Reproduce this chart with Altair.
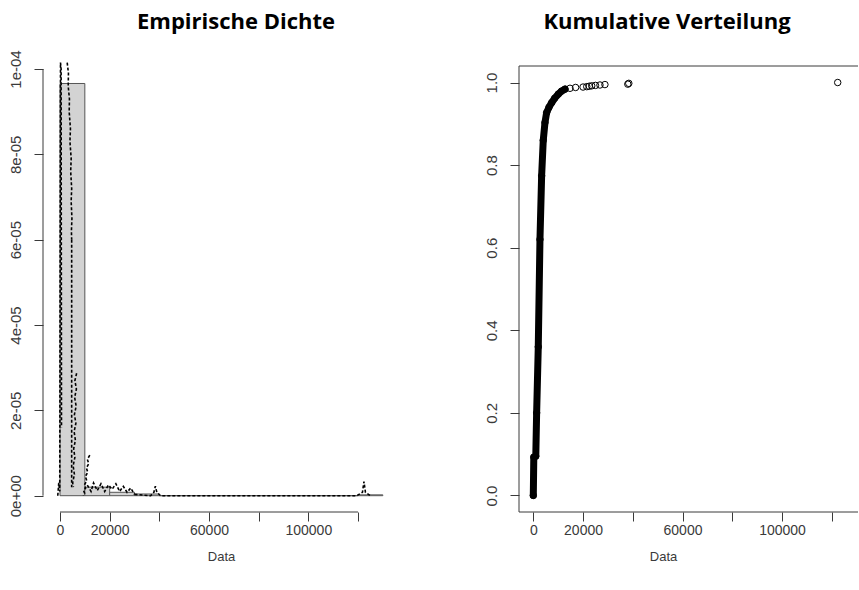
import altair as alt
import pandas as pd

# ---------------- data: left panel (histogram + density) ----------------
hist_start = [0, 10000, 20000, 30000, 40000, 50000, 60000, 70000, 80000, 90000, 100000, 110000, 120000]
hist_end = [10000, 20000, 30000, 40000, 50000, 60000, 70000, 80000, 90000, 100000, 110000, 120000, 130000]
hist_density = [9.66e-05, 2.0e-06, 8.0e-07, 4.0e-07, 0, 0, 0, 0, 0, 0, 0, 0, 2.0e-07]

# dashed density traces (y in units of 1e-6)
dens_seg = (["A"] * 6 + ["B"] * 14 + ["C"] * 2 + ["D"] * 15 + ["E"] * 12 + ["F"] * 14 + ["G"] * 11)
dens_x = [-900, -500, -100, 200, 450, 600,
          2900, 3400, 3300, 3800, 3700, 4200, 4000, 4500, 4300, 4700, 4500, 4800, 4600, 4700,
          4700, 4700,
          6700, 6000, 6600, 5900, 6500, 5800, 6400, 5700, 6200, 5500, 6000, 5300, 5800, 5100, 5400,
          12000, 11000, 11600, 10600, 11200, 10200, 10800, 9800, 10300, 9500, 9900, 9400,
          11000, 12500, 13500, 15000, 16500, 18000, 19500, 21000, 22500, 24000, 25500, 27000, 28500, 30000,
          30000, 36500, 37800, 38400, 39000, 40500, 119500, 121800, 122400, 123000, 125000]
dens_y6 = [0, 3, 1, 101.5, 100, 16,
           101.5, 99, 96, 93, 90, 86, 83, 79, 76, 72, 69, 65, 62, 60,
           60, 2,
           28.7, 27, 25, 23, 21, 19, 17, 15, 13, 11, 9, 7, 5, 3, 2,
           9.5, 8.5, 7.5, 6.5, 5.5, 4.5, 3.5, 2.5, 1.8, 1.2, 0.6, 0,
           2.5, 1, 3, 1.2, 2.8, 1, 2.5, 1.5, 2.8, 1, 2.2, 0.8, 1.8, 0.3,
           0.3, 0, 0.8, 2.2, 0.8, 0, 0, 0.8, 3.3, 0.8, 0]

# ---------------- data: right panel (ECDF) ----------------
ecdf_x = [0, 200, 1000, 1340, 2000, 2680, 3350, 4000, 4690, 5360, 6300, 7370, 8600, 10050, 11300, 12750,
          14750, 17000, 20000, 21500, 22500, 23500, 25000, 26800, 28800, 38000, 38400, 122400]
ecdf_y = [0.0, 0.093, 0.095, 0.2, 0.36, 0.62, 0.774, 0.86, 0.903, 0.927, 0.94, 0.951, 0.962, 0.972, 0.979, 0.984,
          0.986, 0.988, 0.989, 0.990, 0.991, 0.992, 0.993, 0.994, 0.995, 0.996, 0.998, 1.0]
ecdf_dense_count = 16  # points drawn as the solid black run

x_ticks = [0, 20000, 40000, 60000, 80000, 100000, 120000]
x_labels_shown = [0, 20000, 60000, 100000]
dens_ticks = [0, 2e-05, 4e-05, 6e-05, 8e-05, 1e-04]
dens_tick_labels = ["0e+00", "2e-05", "4e-05", "6e-05", "8e-05", "1e-04"]
prob_ticks = [0.0, 0.2, 0.4, 0.6, 0.8, 1.0]
titles = ["Empirische Dichte", "Kumulative Verteilung"]

# ---------------- layout constants ----------------
LW, RW, H = 354, 339, 446
PAD_L, PAD_T, PAD_B = 43, 66, 78
LABEL_FONT = "Liberation Sans"
XLAB_FONT = "Liberation Sans Narrow, Liberation Sans, Arial"
TITLE_FONT = "Open Sans"
INK = "#3a3a3a"

hist_df = pd.DataFrame({"x": hist_start, "x2": hist_end, "y": [0.0] * len(hist_start), "y2": hist_density})
dens_df = pd.DataFrame({"seg": dens_seg, "x": dens_x, "y": [v * 1e-6 for v in dens_y6],
                        "o": list(range(len(dens_x)))})
ecdf_df = pd.DataFrame({"x": ecdf_x, "y": ecdf_y, "o": list(range(len(ecdf_x)))})
ecdf_dense_df = ecdf_df.iloc[:ecdf_dense_count]

shown = ",".join(str(v) for v in x_labels_shown)
x_label_expr = f"indexof([{shown}], datum.value) >= 0 ? format(datum.value, 'd') : ''"
lab_arr = ",".join(f"'{s}'" for s in dens_tick_labels)
y_label_expr = f"[{lab_arr}][round(datum.value / 2e-05)]"


def x_axis(title_x):
    return alt.Axis(values=x_ticks, labelExpr=x_label_expr, domain=False, grid=False,
                    tickSize=9, tickColor=INK, tickWidth=1, labelColor=INK,
                    labelFont=XLAB_FONT, labelFontSize=14, labelPadding=9,
                    labelBaseline="middle", labelOverlap=False, labelFlush=False,
                    title="Data", titleX=title_x, titleY=44, titleBaseline="middle",
                    titleAlign="center", titleFont=XLAB_FONT, titleFontSize=13,
                    titleFontWeight="normal", titleColor=INK)


def y_axis(values, **kw):
    return alt.Axis(values=values, domain=False, grid=False, tickSize=9, tickColor=INK,
                    labelColor=INK, labelFont=LABEL_FONT, labelFontSize=15, labelAngle=-90,
                    labelAlign="center", labelBaseline="middle", labelPadding=19,
                    labelOverlap=False, labelFlush=False, title=None, **kw)


def title_mark(text, x_px):
    return alt.Chart(pd.DataFrame({"t": [text]})).mark_text(
        font=TITLE_FONT, fontSize=22, fontWeight="bold", color="black",
        align="center", baseline="middle").encode(
        text="t:N", x=alt.value(x_px), y=alt.value(22 - PAD_T))


frame_df = pd.DataFrame({"k": [0]})

lx_scale = alt.Scale(domain=[-6846, 135706], nice=False, zero=False)
ly_scale = alt.Scale(domain=[-3.82e-06, 100.7e-06], nice=False, zero=False)
lx_axis = x_axis(178)
ly_axis = y_axis(dens_ticks, labelExpr=y_label_expr)

hist = alt.Chart(hist_df).mark_rect(fill="#d3d3d3", stroke="#555555", strokeWidth=1).encode(
    x=alt.X("x:Q", scale=lx_scale, axis=lx_axis), x2="x2:Q",
    y=alt.Y("y:Q", scale=ly_scale, axis=ly_axis), y2="y2:Q")

dens = alt.Chart(dens_df).mark_line(color="black", strokeWidth=1.6, strokeDash=[3, 2], clip=False).encode(
    x=alt.X("x:Q", scale=lx_scale, axis=lx_axis),
    y=alt.Y("y:Q", scale=ly_scale, axis=ly_axis),
    detail="seg:N", order="o:Q")

xline_df = pd.DataFrame({"x": [x_ticks[0]], "x2": [x_ticks[-1]]})
yline_df = pd.DataFrame({"y": [dens_ticks[0]], "y2": [dens_ticks[-1]]})
lx_line = alt.Chart(xline_df).mark_rule(color=INK, strokeWidth=1).encode(
    x=alt.X("x:Q", scale=lx_scale, axis=lx_axis), x2="x2:Q", y=alt.value(H))
ly_line = alt.Chart(yline_df).mark_rule(color=INK, strokeWidth=1).encode(
    y=alt.Y("y:Q", scale=ly_scale, axis=ly_axis), y2="y2:Q", x=alt.value(0))
# invisible guide fixing the outer page corners
l_bbox = alt.Chart(frame_df).mark_rule(opacity=0, strokeWidth=0).encode(
    x=alt.value(-PAD_L), y=alt.value(-PAD_T), y2=alt.value(H + PAD_B))

left = alt.layer(hist, dens, lx_line, ly_line, l_bbox, title_mark(titles[0], 236 - PAD_L)).properties(
    width=LW, height=H)

rx_scale = alt.Scale(domain=[-5750, 130560], nice=False, zero=False)
ry_scale = alt.Scale(domain=[-0.04, 1.04], nice=False, zero=False)
rx_axis = x_axis(144)
ry_axis = y_axis(prob_ticks, format=".1f")

f_top = alt.Chart(frame_df).mark_rule(color=INK, strokeWidth=1).encode(
    x=alt.value(0), x2=alt.value(RW), y=alt.value(0))
f_bot = alt.Chart(frame_df).mark_rule(color=INK, strokeWidth=1).encode(
    x=alt.value(0), x2=alt.value(RW), y=alt.value(H))
f_left = alt.Chart(frame_df).mark_rule(color=INK, strokeWidth=1).encode(
    x=alt.value(0), y=alt.value(0), y2=alt.value(H))

ecdf_run = alt.Chart(ecdf_dense_df).mark_line(color="black", strokeWidth=7, strokeCap="round",
                                              strokeJoin="round").encode(
    x=alt.X("x:Q", scale=rx_scale, axis=rx_axis),
    y=alt.Y("y:Q", scale=ry_scale, axis=ry_axis), order="o:Q")
ecdf_pts = alt.Chart(ecdf_df).mark_point(shape="circle", filled=False, color="black", size=42,
                                         strokeWidth=1, opacity=1).encode(
    x=alt.X("x:Q", scale=rx_scale, axis=rx_axis),
    y=alt.Y("y:Q", scale=ry_scale, axis=ry_axis))

right = alt.layer(ecdf_run, ecdf_pts, f_top, f_bot, f_left, title_mark(titles[1], 667 - 519)).properties(
    width=RW, height=H)

chart = alt.hconcat(left, right, spacing=122).properties(
    bounds="flush",
    padding=0,
    autosize=alt.AutoSizeParams(type="pad"),
    background="white",
).configure_view(stroke=None)

chart.save("out.html", embed_options={"renderer": "svg", "actions": False})
